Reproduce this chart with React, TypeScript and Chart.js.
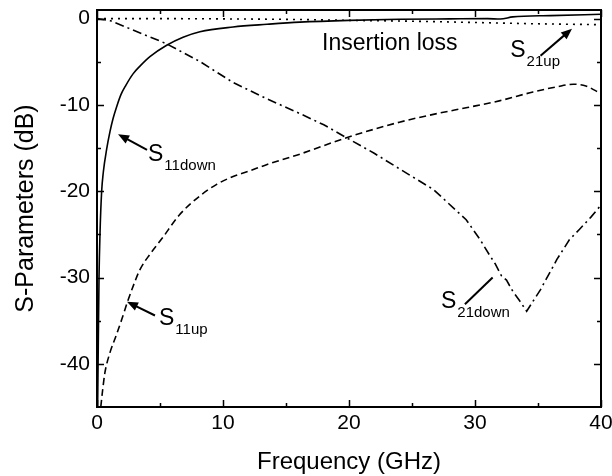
import React, { useEffect, useRef } from "react";
import { Chart, registerables } from "chart.js";

Chart.register(...registerables);

// ---------- data ----------
const S11DOWN_X = [0.05, 0.1, 0.16, 0.24, 0.37, 0.5, 0.77, 1.03, 1.27, 1.56, 1.9, 2.3, 2.86, 3.41, 4.2, 5.53, 6.83, 8.17, 10.8, 13.5, 16.1, 20, 24, 28, 31, 32, 33, 36, 40];
const S11DOWN_Y = [-45, -38, -30, -24.8, -20, -17.8, -15.1, -13.1, -11.6, -10.2, -8.8, -7.7, -6.4, -5.5, -4.4, -3.08, -2.15, -1.51, -0.97, -0.66, -0.41, -0.2, -0.08, -0.03, 0.0, -0.05, 0.2, 0.35, 0.5];

const S11UP_X = [0.3, 0.45, 0.63, 1.03, 1.5, 2.0, 2.4, 3.0, 3.4, 4.2, 5.2, 6.5, 8.2, 9.5, 10.8, 12, 13.5, 16.1, 19.8, 24, 27, 29.4, 32, 34.6, 36.5, 37.8, 38.8, 40];
const S11UP_Y = [-45, -43, -41, -38.7, -36.8, -34.7, -32.9, -30.5, -29.1, -27.3, -25.4, -22.8, -20.5, -19.2, -18.3, -17.7, -16.9, -15.7, -13.8, -12, -11, -10.3, -9.5, -8.5, -7.9, -7.6, -7.8, -8.7];

const S21DOWN_X = [0, 1, 2.5, 4, 5.5, 8.2, 10.8, 13.5, 16.1, 18, 19.8, 22, 24, 26.7, 29.3, 30.4, 31.2, 31.6, 32.1, 32.5, 33.0, 33.5, 34.1, 35.2, 36.5, 37.5, 38.3, 39.2, 40];
const S21DOWN_Y = [0, -0.2, -1.1, -2.0, -2.9, -5.0, -7.4, -9.3, -11, -12.3, -13.8, -15.6, -17.4, -19.8, -23.3, -25.6, -27.5, -28.4, -29.8, -30.3, -31.6, -32.6, -33.9, -31.4, -27.9, -25.6, -24.4, -23, -21.6];

const S21UP_X = [0, 5, 10, 16, 20, 25, 30, 35, 40];
const S21UP_Y = [0, 0, -0.03, -0.1, -0.2, -0.3, -0.45, -0.6, -0.7];

const X_TICKS = [0, 10, 20, 30, 40];
const X_MINOR = [5, 15, 25, 35];
const Y_TICKS = [0, -10, -20, -30, -40];
const Y_MINOR = [-5, -15, -25, -35];

const X_TITLE = "Frequency (GHz)";
const Y_TITLE = "S-Parameters (dB)";

// annotations (data units)
const NOTE_MAIN = ["Insertion loss", "S", "S", "S", "S"];
const NOTE_SUB = ["", "21up", "11down", "11up", "21down"];
const NOTE_X = [17.86, 32.8, 4.05, 4.92, 27.3];
const NOTE_Y = [-3.6, -4.4, -16.5, -35.5, -33.5];
const ARROW_X1 = [NaN, 35.2, 3.97, 4.6, 29.2];
const ARROW_Y1 = [NaN, -4.3, -15.2, -34.4, -33.1];
const ARROW_X2 = [NaN, 37.7, 1.67, 2.38, 31.4];
const ARROW_Y2 = [NaN, -1.16, -13.4, -32.8, -30.0];
const ARROW_HEAD = [false, true, true, true, false];

const FONT = "'Liberation Sans', Arial, Helvetica, sans-serif";

const pts = (xs: number[], ys: number[]) => xs.map((x, i) => ({ x, y: ys[i] }));

const framePlugin = {
  id: "frame",
  afterDraw(chart: any) {
    const { ctx, chartArea: a, scales } = chart;
    const xs = scales.x;
    const ys = scales.y;
    ctx.save();
    ctx.strokeStyle = "#000";
    ctx.fillStyle = "#000";
    ctx.lineWidth = 1.5;
    const major = 7;
    const minor = 4;
    const drawX = (v: number, len: number) => {
      const px = Math.round(xs.getPixelForValue(v)) + 0.5;
      ctx.beginPath();
      ctx.moveTo(px, a.bottom);
      ctx.lineTo(px, a.bottom - len);
      ctx.moveTo(px, a.top);
      ctx.lineTo(px, a.top + len);
      ctx.stroke();
    };
    const drawY = (v: number, len: number) => {
      const py = Math.round(ys.getPixelForValue(v)) + 0.5;
      ctx.beginPath();
      ctx.moveTo(a.left, py);
      ctx.lineTo(a.left + len, py);
      ctx.moveTo(a.right, py);
      ctx.lineTo(a.right - len, py);
      ctx.stroke();
    };
    X_TICKS.forEach((v) => drawX(v, major));
    X_MINOR.forEach((v) => drawX(v, minor));
    Y_TICKS.forEach((v) => drawY(v, major));
    Y_MINOR.forEach((v) => drawY(v, minor));
    ctx.lineWidth = 2;
    ctx.strokeRect(a.left, a.top, a.right - a.left, a.bottom - a.top);

    for (let i = 0; i < NOTE_MAIN.length; i++) {
      const tx = xs.getPixelForValue(NOTE_X[i]);
      const ty = ys.getPixelForValue(NOTE_Y[i]);
      ctx.textAlign = "left";
      ctx.textBaseline = "alphabetic";
      ctx.font = `23px ${FONT}`;
      ctx.fillText(NOTE_MAIN[i], tx, ty);
      if (NOTE_SUB[i]) {
        const w = ctx.measureText(NOTE_MAIN[i]).width;
        ctx.font = `15px ${FONT}`;
        ctx.fillText(NOTE_SUB[i], tx + w + 1, ty + 9);
      }
      if (!isNaN(ARROW_X1[i])) {
        const x1 = xs.getPixelForValue(ARROW_X1[i]);
        const y1 = ys.getPixelForValue(ARROW_Y1[i]);
        const x2 = xs.getPixelForValue(ARROW_X2[i]);
        const y2 = ys.getPixelForValue(ARROW_Y2[i]);
        const ang = Math.atan2(y2 - y1, x2 - x1);
        const hl = ARROW_HEAD[i] ? 11 : 0;
        ctx.lineWidth = 2;
        ctx.beginPath();
        ctx.moveTo(x1, y1);
        ctx.lineTo(x2 - Math.cos(ang) * hl * 0.8, y2 - Math.sin(ang) * hl * 0.8);
        ctx.stroke();
        if (ARROW_HEAD[i]) {
          const hw = 4.5;
          const bx = x2 - Math.cos(ang) * hl;
          const by = y2 - Math.sin(ang) * hl;
          ctx.beginPath();
          ctx.moveTo(x2, y2);
          ctx.lineTo(bx - Math.sin(ang) * hw, by + Math.cos(ang) * hw);
          ctx.lineTo(bx + Math.sin(ang) * hw, by - Math.cos(ang) * hw);
          ctx.closePath();
          ctx.fill();
        }
      }
    }

    ctx.textAlign = "center";
    ctx.textBaseline = "middle";
    ctx.font = `24px ${FONT}`;
    ctx.fillText(X_TITLE, (a.left + a.right) / 2, a.bottom + 55);
    ctx.font = `25px ${FONT}`;
    ctx.translate(26, (a.top + a.bottom) / 2);
    ctx.rotate(-Math.PI / 2);
    ctx.fillText(Y_TITLE, 0, 0);
    ctx.restore();
  },
};

export default function App() {
  const ref = useRef<HTMLCanvasElement | null>(null);
  useEffect(() => {
    if (!ref.current) return;
    const common = { pointRadius: 0, borderColor: "#000", borderWidth: 1.6, fill: false };
    const chart = new Chart(ref.current, {
      type: "line",
      data: {
        datasets: [
          { ...common, label: "S11down", data: pts(S11DOWN_X, S11DOWN_Y), cubicInterpolationMode: "monotone" },
          { ...common, label: "S11up", data: pts(S11UP_X, S11UP_Y), borderDash: [7, 4], cubicInterpolationMode: "monotone" },
          { ...common, label: "S21down", data: pts(S21DOWN_X, S21DOWN_Y), borderDash: [9, 4, 2, 4], tension: 0 },
          { ...common, label: "S21up", data: pts(S21UP_X, S21UP_Y), borderDash: [2, 5], cubicInterpolationMode: "monotone" },
        ] as any,
      },
      options: {
        responsive: false,
        animation: false,
        devicePixelRatio: 1,
        layout: { padding: { top: 10, right: 11, left: 0, bottom: 0 } },
        plugins: { legend: { display: false }, tooltip: { enabled: false } },
        scales: {
          x: {
            type: "linear",
            min: 0,
            max: 40,
            grid: { display: false, drawTicks: false },
            border: { display: false },
            afterBuildTicks: (s: any) => {
              s.ticks = X_TICKS.map((v) => ({ value: v }));
            },
            afterFit: (s: any) => {
              s.height = 69;
              s.paddingLeft = 0;
              s.paddingRight = 0;
              s.paddingTop = 0;
              s.paddingBottom = 0;
            },
            ticks: { color: "#000", font: { family: FONT, size: 21 }, padding: 4, maxRotation: 0 },
          },
          y: {
            type: "linear",
            min: -45,
            max: 1,
            grid: { display: false, drawTicks: false },
            border: { display: false },
            afterBuildTicks: (s: any) => {
              s.ticks = Y_TICKS.map((v) => ({ value: v }));
            },
            afterFit: (s: any) => {
              s.width = 97;
              s.paddingLeft = 0;
              s.paddingRight = 0;
              s.paddingTop = 0;
              s.paddingBottom = 0;
            },
            ticks: { color: "#000", font: { family: FONT, size: 21 }, padding: 7 },
          },
        },
      } as any,
      plugins: [framePlugin],
    });
    return () => chart.destroy();
  }, []);
  return (
    <div style={{ position: "absolute", left: 0, top: 0, width: 612, height: 476, background: "#fff" }}>
      <canvas ref={ref} width={612} height={476} style={{ display: "block" }} />
    </div>
  );
}
